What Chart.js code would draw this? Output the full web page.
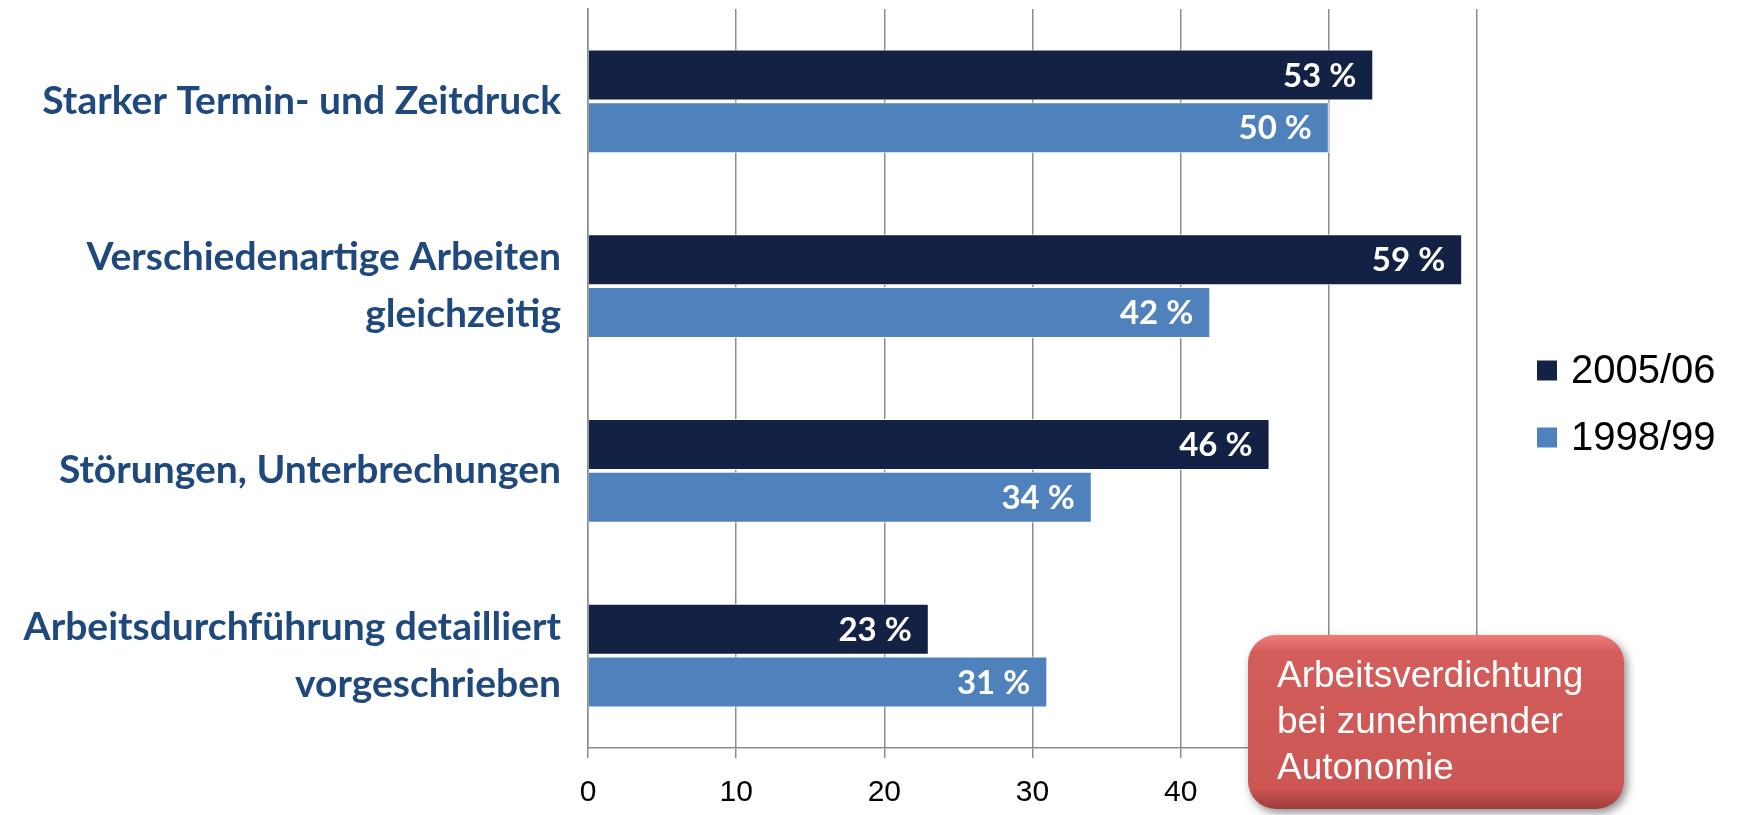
<!DOCTYPE html>
<html>
<head>
<meta charset="utf-8">
<script src="https://cdn.jsdelivr.net/npm/chart.js@4"></script>
<style>
    html, body { margin: 0; padding: 0; background: #fff; }
    #box { width: 1737px; height: 815px; }
</style>
</head>
<body>
<div id="box"><canvas id="belastung"></canvas></div>
<script>
// Belastungen bei der Arbeit, 1998/99 vs 2005/06

const categories = [
    ['Starker Termin- und Zeitdruck'],
    ['Verschiedenartige Arbeiten', 'gleichzeitig'],
    ['Störungen, Unterbrechungen'],
    ['Arbeitsdurchführung detailliert', 'vorgeschrieben'],
];
const values2005 = [53, 59, 46, 23];
const values1998 = [50, 42, 34, 31];
const xTicks = [0, 10, 20, 30, 40, 50, 60];
const calloutLines = ['Arbeitsverdichtung', 'bei zunehmender', 'Autonomie'];

const gridGrey = '#8c8c8c';

// white percentage labels at the end of each bar
const barLabels = {
    id: 'barLabels',
    afterDatasetsDraw(chart) {
        const ctx = chart.ctx;
        ctx.save();
        ctx.font = 'bold 33px Lato';
        ctx.fillStyle = '#ffffff';
        ctx.textAlign = 'right';
        ctx.textBaseline = 'middle';
        chart.data.datasets.forEach((ds, i) => {
            chart.getDatasetMeta(i).data.forEach((bar, j) => {
                ctx.fillText(ds.data[j] + ' %', bar.x - 17, bar.y + 1);
            });
        });
        ctx.restore();
    }
};

// legend on the right, square markers
const sideLegend = {
    id: 'sideLegend',
    afterDraw(chart) {
        const ctx = chart.ctx;
        const mid = (chart.chartArea.top + chart.chartArea.bottom) / 2;
        ctx.save();
        ctx.font = '40px "Liberation Sans"';
        ctx.textBaseline = 'middle';
        chart.data.datasets.forEach((ds, i) => {
            const y = mid - 8 + i * 67;
            ctx.fillStyle = ds.backgroundColor;
            ctx.fillRect(1537, y - 10, 20, 20);
            ctx.fillStyle = '#000000';
            ctx.fillText(ds.label, 1571, y + 1);
        });
        ctx.restore();
    }
};

// red rounded callout box
const callout = {
    id: 'callout',
    afterDraw(chart) {
        const ctx = chart.ctx;
        const x = 1248, y = 635, w = 376, h = 174, r = 28;
        ctx.save();
        ctx.shadowColor = 'rgba(0,0,0,0.45)';
        ctx.shadowBlur = 10;
        ctx.shadowOffsetX = 3;
        ctx.shadowOffsetY = 4;
        const g = ctx.createLinearGradient(0, y, 0, y + h);
        g.addColorStop(0, '#f07c79');
        g.addColorStop(0.1, '#d25d5a');
        g.addColorStop(0.88, '#cc5654');
        g.addColorStop(1, '#9e3c3b');
        ctx.fillStyle = g;
        ctx.beginPath();
        ctx.roundRect(x, y, w, h, r);
        ctx.fill();
        ctx.restore();

        ctx.save();
        ctx.fillStyle = '#ffffff';
        ctx.font = '37px "Liberation Sans"';
        ctx.textBaseline = 'middle';
        calloutLines.forEach((line, i) => {
            ctx.fillText(line, 1277, 677 + i * 46);
        });
        ctx.restore();
    }
};

const data = {
    labels: categories,
    datasets: [
        {
            label: '2005/06',
            data: values2005,
            backgroundColor: '#132145',
            borderColor: 'rgba(255,255,255,0.9)',
            borderWidth: 1,
            categoryPercentage: 0.57,
            barPercentage: 0.97
        },
        {
            label: '1998/99',
            data: values1998,
            backgroundColor: '#4f81bd',
            borderColor: 'rgba(255,255,255,0.9)',
            borderWidth: 1,
            categoryPercentage: 0.57,
            barPercentage: 0.97
        },
    ]
};

const config = {
    type: 'bar',
    data: data,
    options: {
        indexAxis: 'y',
        responsive: true,
        maintainAspectRatio: false,
        animation: false,
        layout: {
            padding: { top: 9, right: 260, bottom: 7, left: 0 }
        },
        plugins: {
            legend: { display: false },
            tooltip: { enabled: false }
        },
        scales: {
            x: {
                min: 0,
                max: 60,
                afterBuildTicks: (scale) => {
                    scale.ticks = xTicks.map(v => ({ value: v }));
                },
                afterFit: (scale) => { scale.height = 60; },
                ticks: {
                    color: '#000000',
                    padding: 17,
                    font: { family: '"Liberation Sans Narrow", "Liberation Sans"', size: 30 }
                },
                grid: {
                    color: gridGrey,
                    lineWidth: 1.5,
                    tickLength: 10
                },
                border: { color: gridGrey, width: 1.5 }
            },
            y: {
                afterFit: (scale) => {
                    scale.width = 588;
                    scale.paddingTop = 0;
                    scale.paddingBottom = 0;
                },
                grid: { display: false, drawTicks: false },
                border: { display: true, color: gridGrey, width: 1.5 },
                ticks: {
                    color: '#1f497d',
                    padding: 27,
                    font: { family: 'Lato', weight: 'bold', size: 39, lineHeight: 1.46 }
                }
            }
        }
    },
    plugins: [barLabels, sideLegend, callout]
};

const belastungChart = new Chart(
    document.getElementById('belastung'),
    config
);
</script>
</body>
</html>
